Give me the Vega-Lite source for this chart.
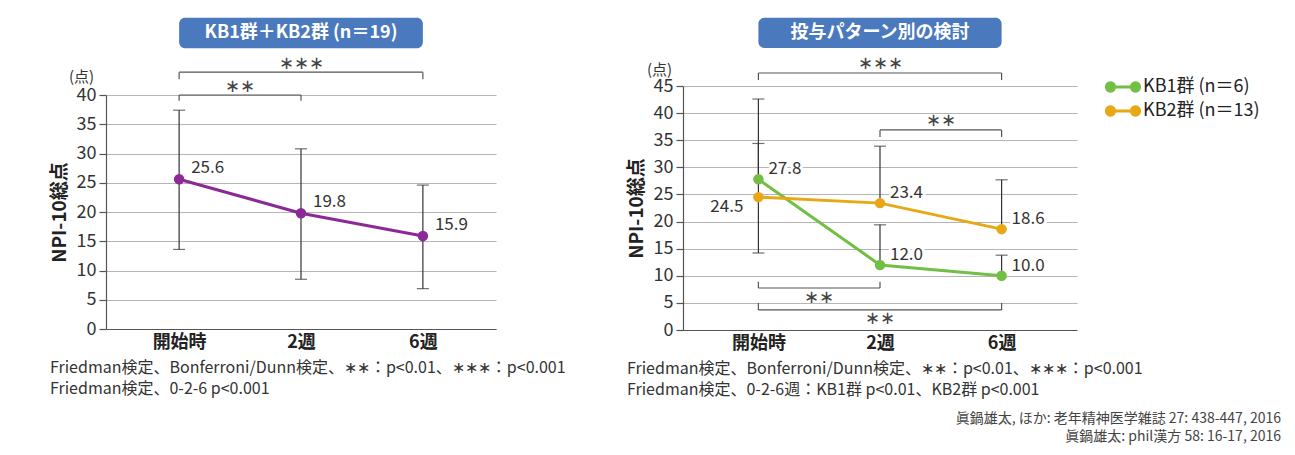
{
  "$schema": "https://vega.github.io/schema/vega-lite/v6.json",
  "background": "white",
  "padding": {"left": 50, "top": 17, "right": 10, "bottom": 6},
  "autosize": {"type": "pad"},
  "spacing": 61,
  "bounds": "full",
  "config": {
    "font": "Noto Sans CJK JP",
    "view": {"stroke": null},
    "axisX": {"title": null, "labelFontSize": 18, "labelFontWeight": "bold", "labelColor": "#222", "labelAngle": 0, "ticks": false,
      "domainColor": "#555", "domainWidth": 1.2, "labelPadding": 4, "grid": false},
    "axisY": {"titleFontSize": 19, "titleFontWeight": "bold", "titleColor": "#222", "titlePadding": 7, "tickCount": 9,
      "grid": true, "gridColor": "#b5b5b5", "gridWidth": 1, "domainColor": "#555", "domainWidth": 1.2,
      "tickColor": "#555", "tickSize": 7, "tickWidth": 1.2, "labelFontSize": 18, "labelColor": "#333", "labelPadding": 3}
  },
  "title": {
    "text": ["眞鍋雄太, ほか: 老年精神医学雑誌 27: 438-447, 2016", "眞鍋雄太: phil漢方 58: 16-17, 2016"],
    "orient": "bottom",
    "anchor": "end",
    "frame": "bounds",
    "fontSize": 14,
    "fontWeight": "normal",
    "color": "#444",
    "lineHeight": 18,
    "offset": 14,
    "dx": 21
  },
  "datasets": {
    "allScores": [
      {"time": "開始時", "mean": 25.6, "lo": 13.6, "hi": 37.4},
      {"time": "2週", "mean": 19.8, "lo": 8.5, "hi": 30.8},
      {"time": "6週", "mean": 15.9, "lo": 6.9, "hi": 24.6}
    ],
    "allBrackets": [
      {"from": "開始時", "to": "6週", "sig": "∗∗∗", "level": 43.9, "tip": 42.7, "labelAt": 45.3},
      {"from": "開始時", "to": "2週", "sig": "∗∗", "level": 40.0, "tip": 39.0, "labelAt": 41.4}
    ],
    "groupScores": [
      {"group": "KB1群 (n＝6)", "time": "開始時", "mean": 27.8, "lo": 27.8, "hi": 42.6},
      {"group": "KB1群 (n＝6)", "time": "2週", "mean": 12.0, "lo": 12.0, "hi": 19.4},
      {"group": "KB1群 (n＝6)", "time": "6週", "mean": 10.0, "lo": 10.0, "hi": 13.8},
      {"group": "KB2群 (n＝13)", "time": "開始時", "mean": 24.5, "lo": 14.2, "hi": 34.4},
      {"group": "KB2群 (n＝13)", "time": "2週", "mean": 23.4, "lo": 23.4, "hi": 33.9},
      {"group": "KB2群 (n＝13)", "time": "6週", "mean": 18.6, "lo": 18.6, "hi": 27.7}
    ],
    "groupBrackets": [
      {"from": "開始時", "to": "6週", "sig": "∗∗∗", "level": 47.4, "tip": 46.1, "labelAt": 49.1},
      {"from": "2週", "to": "6週", "sig": "∗∗", "level": 36.9, "tip": 35.6, "labelAt": 38.6},
      {"from": "開始時", "to": "2週", "sig": "∗∗", "level": 7.75, "tip": 8.9, "labelAt": 5.9},
      {"from": "開始時", "to": "6週", "sig": "∗∗", "level": 3.7, "tip": 5.0, "labelAt": 2.0}
    ]
  },
  "hconcat": [
    {
      "width": 390,
      "height": 243,
      "title": {
        "text": ["Friedman検定、Bonferroni/Dunn検定、∗∗：p<0.01、∗∗∗：p<0.001", "Friedman検定、0-2-6 p<0.001"],
        "orient": "bottom",
        "anchor": "start",
        "frame": "bounds",
        "fontSize": 16,
        "fontWeight": "normal",
        "color": "#333",
        "lineHeight": 21,
        "offset": 9
      },
      "resolve": {"axis": {"y": "independent"}},
      "layer": [
        {
          "layer": [
            {
              "data": {"name": "allScores"},
              "mark": {"type": "rule", "color": "#333", "strokeWidth": 1.2},
              "encoding": {
                "x": {"field": "time", "type": "ordinal", "scale": {"type": "point", "domain": ["開始時", "2週", "6週"], "padding": 0.6}},
                "y": {"field": "lo", "type": "quantitative", "scale": {"domain": [0, 40], "range": [243, 9], "nice": false, "zero": true},
                  "axis": {"title": "NPI-10総点", "values": [0, 5, 10, 15, 20, 25, 30, 35, 40]}},
                "y2": {"field": "hi"}
              }
            },
            {
              "data": {"name": "allScores"},
              "mark": {"type": "tick", "color": "#333", "thickness": 1.2, "size": 12},
              "encoding": {
                "x": {"field": "time", "type": "ordinal", "scale": {"type": "point", "domain": ["開始時", "2週", "6週"], "padding": 0.6}},
                "y": {"field": "hi", "type": "quantitative"}
              }
            },
            {
              "data": {"name": "allScores"},
              "mark": {"type": "tick", "color": "#333", "thickness": 1.2, "size": 12},
              "encoding": {
                "x": {"field": "time", "type": "ordinal", "scale": {"type": "point", "domain": ["開始時", "2週", "6週"], "padding": 0.6}},
                "y": {"field": "lo", "type": "quantitative"}
              }
            },
            {
              "data": {"name": "allScores"},
              "mark": {"type": "line", "color": "#8b2a96", "strokeWidth": 3},
              "encoding": {
                "x": {"field": "time", "type": "ordinal", "scale": {"type": "point", "domain": ["開始時", "2週", "6週"], "padding": 0.6}},
                "y": {"field": "mean", "type": "quantitative"}
              }
            },
            {
              "data": {"name": "allScores"},
              "mark": {"type": "point", "filled": true, "opacity": 1, "size": 110, "color": "#8b2a96"},
              "encoding": {
                "x": {"field": "time", "type": "ordinal", "scale": {"type": "point", "domain": ["開始時", "2週", "6週"], "padding": 0.6}},
                "y": {"field": "mean", "type": "quantitative"}
              }
            },
            {
              "data": {"name": "allScores"},
              "mark": {"type": "text", "align": "left", "baseline": "middle", "dx": 12, "dy": -11, "fontSize": 17, "color": "white", "stroke": "white", "strokeWidth": 6, "strokeJoin": "round"},
              "encoding": {
                "x": {"field": "time", "type": "ordinal", "scale": {"type": "point", "domain": ["開始時", "2週", "6週"], "padding": 0.6}},
                "y": {"field": "mean", "type": "quantitative"},
                "text": {"field": "mean", "type": "quantitative", "format": ".1f"}
              }
            },
            {
              "data": {"name": "allScores"},
              "mark": {"type": "text", "align": "left", "baseline": "middle", "dx": 12, "dy": -11, "fontSize": 17, "color": "#333"},
              "encoding": {
                "x": {"field": "time", "type": "ordinal", "scale": {"type": "point", "domain": ["開始時", "2週", "6週"], "padding": 0.6}},
                "y": {"field": "mean", "type": "quantitative"},
                "text": {"field": "mean", "type": "quantitative", "format": ".1f"}
              }
            },
            {
              "data": {"name": "allBrackets"},
              "mark": {"type": "rule", "color": "#555", "strokeWidth": 1.2},
              "encoding": {
                "x": {"field": "from", "type": "ordinal", "scale": {"type": "point", "domain": ["開始時", "2週", "6週"], "padding": 0.6}},
                "x2": {"field": "to"},
                "y": {"field": "level", "type": "quantitative"}
              }
            },
            {
              "data": {"name": "allBrackets"},
              "mark": {"type": "rule", "color": "#555", "strokeWidth": 1.2},
              "encoding": {
                "x": {"field": "from", "type": "ordinal", "scale": {"type": "point", "domain": ["開始時", "2週", "6週"], "padding": 0.6}},
                "y": {"field": "level", "type": "quantitative"},
                "y2": {"field": "tip"}
              }
            },
            {
              "data": {"name": "allBrackets"},
              "mark": {"type": "rule", "color": "#555", "strokeWidth": 1.2},
              "encoding": {
                "x": {"field": "to", "type": "ordinal", "scale": {"type": "point", "domain": ["開始時", "2週", "6週"], "padding": 0.6}},
                "y": {"field": "level", "type": "quantitative"},
                "y2": {"field": "tip"}
              }
            },
            {
              "data": {"name": "allBrackets"},
              "transform": [{"filter": "datum.from == '開始時' && datum.to == '6週'"}],
              "mark": {"type": "text", "align": "center", "baseline": "middle", "fontSize": 18, "color": "#444"},
              "encoding": {
                "x": {"datum": "2週", "type": "ordinal", "scale": {"type": "point", "domain": ["開始時", "2週", "6週"], "padding": 0.6}},
                "y": {"field": "labelAt", "type": "quantitative"},
                "text": {"field": "sig"}
              }
            },
            {
              "data": {"name": "allBrackets"},
              "transform": [{"filter": "!(datum.from == '開始時' && datum.to == '6週')"}],
              "mark": {"type": "text", "align": "center", "baseline": "middle", "fontSize": 18, "color": "#444", "dx": 61},
              "encoding": {
                "x": {"field": "from", "type": "ordinal", "scale": {"type": "point", "domain": ["開始時", "2週", "6週"], "padding": 0.6}},
                "y": {"field": "labelAt", "type": "quantitative"},
                "text": {"field": "sig"}
              }
            }
          ]
        },
        {
          "data": {"values": [{"heading": "KB1群＋KB2群 (n＝19)"}]},
          "layer": [
            {
              "mark": {"type": "rect", "color": "#4a79be", "cornerRadius": 6},
              "encoding": {
                "x": {"datum": "開始時", "type": "ordinal", "scale": {"type": "point", "domain": ["開始時", "2週", "6週"], "padding": 0.6}},
                "x2": {"datum": "6週"},
                "y": {"datum": 53.2, "type": "quantitative",
                  "axis": {"orient": "left", "title": "(点)", "titleAngle": 0, "titleX": -25, "titleY": -10, "titleAlign": "center", "titleBaseline": "middle",
                    "titleFontSize": 15, "titleFontWeight": "normal", "titleColor": "#333", "labels": false, "ticks": false, "domain": false, "grid": false}},
                "y2": {"datum": 48.0}
              }
            },
            {
              "mark": {"type": "text", "color": "white", "fontSize": 18, "fontWeight": "bold", "align": "center", "baseline": "middle"},
              "encoding": {
                "x": {"datum": "2週", "type": "ordinal", "scale": {"type": "point", "domain": ["開始時", "2週", "6週"], "padding": 0.6}},
                "y": {"datum": 50.6, "type": "quantitative"},
                "text": {"field": "heading"}
              }
            }
          ]
        }
      ]
    },
    {
      "width": 394,
      "height": 244,
      "title": {
        "text": ["Friedman検定、Bonferroni/Dunn検定、∗∗：p<0.01、∗∗∗：p<0.001", "Friedman検定、0-2-6週：KB1群 p<0.01、KB2群  p<0.001"],
        "orient": "bottom",
        "anchor": "start",
        "frame": "bounds",
        "fontSize": 16,
        "fontWeight": "normal",
        "color": "#333",
        "lineHeight": 21,
        "offset": 9
      },
      "resolve": {"axis": {"y": "independent"}},
      "layer": [
        {
          "layer": [
            {
              "data": {"name": "groupScores"},
              "mark": {"type": "rule", "color": "#333", "strokeWidth": 1.2},
              "encoding": {
                "x": {"field": "time", "type": "ordinal", "scale": {"type": "point", "domain": ["開始時", "2週", "6週"], "padding": 0.62}},
                "y": {"field": "lo", "type": "quantitative", "scale": {"domain": [0, 45], "nice": false, "zero": true},
                  "axis": {"title": "NPI-10総点", "tickCount": 10, "values": [0, 5, 10, 15, 20, 25, 30, 35, 40, 45]}},
                "y2": {"field": "hi"}
              }
            },
            {
              "data": {"name": "groupScores"},
              "mark": {"type": "tick", "color": "#333", "thickness": 1.2, "size": 12},
              "encoding": {
                "x": {"field": "time", "type": "ordinal", "scale": {"type": "point", "domain": ["開始時", "2週", "6週"], "padding": 0.62}},
                "y": {"field": "hi", "type": "quantitative"}
              }
            },
            {
              "data": {"name": "groupScores"},
              "transform": [{"filter": "datum.lo < datum.mean"}],
              "mark": {"type": "tick", "color": "#333", "thickness": 1.2, "size": 12},
              "encoding": {
                "x": {"field": "time", "type": "ordinal", "scale": {"type": "point", "domain": ["開始時", "2週", "6週"], "padding": 0.62}},
                "y": {"field": "lo", "type": "quantitative"}
              }
            },
            {
              "data": {"name": "groupScores"},
              "mark": {"type": "line", "strokeWidth": 3},
              "encoding": {
                "x": {"field": "time", "type": "ordinal", "scale": {"type": "point", "domain": ["開始時", "2週", "6週"], "padding": 0.62}},
                "y": {"field": "mean", "type": "quantitative"},
                "color": {"field": "group", "type": "nominal",
                  "scale": {"domain": ["KB1群 (n＝6)", "KB2群 (n＝13)"], "range": ["#73bf45", "#e8a714"]},
                  "legend": {"title": null, "orient": "none", "legendX": 1008, "legendY": -8,
                    "symbolType": "M-3,0A0.917,0.917,0,1,1,-1.167,0A0.917,0.917,0,1,1,-3,0Z M1.167,0A0.917,0.917,0,1,1,3,0A0.917,0.917,0,1,1,1.167,0Z M-1.2,-0.233L1.2,-0.233L1.2,0.233L-1.2,0.233Z",
                    "symbolSize": 144, "symbolStrokeWidth": 0, "symbolOpacity": 1,
                    "labelFontSize": 18, "labelColor": "#222", "labelOffset": 11, "rowPadding": 6, "padding": 0}}
              }
            },
            {
              "data": {"name": "groupScores"},
              "mark": {"type": "point", "filled": true, "opacity": 1, "size": 110},
              "encoding": {
                "x": {"field": "time", "type": "ordinal", "scale": {"type": "point", "domain": ["開始時", "2週", "6週"], "padding": 0.62}},
                "y": {"field": "mean", "type": "quantitative"},
                "color": {"field": "group", "type": "nominal",
                  "scale": {"domain": ["KB1群 (n＝6)", "KB2群 (n＝13)"], "range": ["#73bf45", "#e8a714"]},
                  "legend": {"title": null, "orient": "none", "legendX": 1008, "legendY": -8,
                    "symbolType": "M-3,0A0.917,0.917,0,1,1,-1.167,0A0.917,0.917,0,1,1,-3,0Z M1.167,0A0.917,0.917,0,1,1,3,0A0.917,0.917,0,1,1,1.167,0Z M-1.2,-0.233L1.2,-0.233L1.2,0.233L-1.2,0.233Z",
                    "symbolSize": 144, "symbolStrokeWidth": 0, "symbolOpacity": 1,
                    "labelFontSize": 18, "labelColor": "#222", "labelOffset": 11, "rowPadding": 6, "padding": 0}}
              }
            },
            {
              "data": {"name": "groupScores"},
              "transform": [{"filter": "!(datum.group == 'KB2群 (n＝13)' && datum.time == '開始時')"}],
              "mark": {"type": "text", "align": "left", "baseline": "middle", "dx": 10, "dy": -10, "fontSize": 17, "color": "white", "stroke": "white", "strokeWidth": 6, "strokeJoin": "round"},
              "encoding": {
                "x": {"field": "time", "type": "ordinal", "scale": {"type": "point", "domain": ["開始時", "2週", "6週"], "padding": 0.62}},
                "y": {"field": "mean", "type": "quantitative"},
                "text": {"field": "mean", "type": "quantitative", "format": ".1f"}
              }
            },
            {
              "data": {"name": "groupScores"},
              "transform": [{"filter": "!(datum.group == 'KB2群 (n＝13)' && datum.time == '開始時')"}],
              "mark": {"type": "text", "align": "left", "baseline": "middle", "dx": 10, "dy": -10, "fontSize": 17, "color": "#333"},
              "encoding": {
                "x": {"field": "time", "type": "ordinal", "scale": {"type": "point", "domain": ["開始時", "2週", "6週"], "padding": 0.62}},
                "y": {"field": "mean", "type": "quantitative"},
                "text": {"field": "mean", "type": "quantitative", "format": ".1f"}
              }
            },
            {
              "data": {"name": "groupScores"},
              "transform": [{"filter": "datum.group == 'KB2群 (n＝13)' && datum.time == '開始時'"}],
              "mark": {"type": "text", "align": "right", "baseline": "middle", "dx": -15, "dy": 10, "fontSize": 17, "color": "#333"},
              "encoding": {
                "x": {"field": "time", "type": "ordinal", "scale": {"type": "point", "domain": ["開始時", "2週", "6週"], "padding": 0.62}},
                "y": {"field": "mean", "type": "quantitative"},
                "text": {"field": "mean", "type": "quantitative", "format": ".1f"}
              }
            },
            {
              "data": {"name": "groupBrackets"},
              "mark": {"type": "rule", "color": "#555", "strokeWidth": 1.2},
              "encoding": {
                "x": {"field": "from", "type": "ordinal", "scale": {"type": "point", "domain": ["開始時", "2週", "6週"], "padding": 0.62}},
                "x2": {"field": "to"},
                "y": {"field": "level", "type": "quantitative"}
              }
            },
            {
              "data": {"name": "groupBrackets"},
              "mark": {"type": "rule", "color": "#555", "strokeWidth": 1.2},
              "encoding": {
                "x": {"field": "from", "type": "ordinal", "scale": {"type": "point", "domain": ["開始時", "2週", "6週"], "padding": 0.62}},
                "y": {"field": "level", "type": "quantitative"},
                "y2": {"field": "tip"}
              }
            },
            {
              "data": {"name": "groupBrackets"},
              "mark": {"type": "rule", "color": "#555", "strokeWidth": 1.2},
              "encoding": {
                "x": {"field": "to", "type": "ordinal", "scale": {"type": "point", "domain": ["開始時", "2週", "6週"], "padding": 0.62}},
                "y": {"field": "level", "type": "quantitative"},
                "y2": {"field": "tip"}
              }
            },
            {
              "data": {"name": "groupBrackets"},
              "transform": [{"filter": "datum.from == '開始時' && datum.to == '6週'"}],
              "mark": {"type": "text", "align": "center", "baseline": "middle", "fontSize": 18, "color": "#444"},
              "encoding": {
                "x": {"datum": "2週", "type": "ordinal", "scale": {"type": "point", "domain": ["開始時", "2週", "6週"], "padding": 0.62}},
                "y": {"field": "labelAt", "type": "quantitative"},
                "text": {"field": "sig"}
              }
            },
            {
              "data": {"name": "groupBrackets"},
              "transform": [{"filter": "!(datum.from == '開始時' && datum.to == '6週')"}],
              "mark": {"type": "text", "align": "center", "baseline": "middle", "fontSize": 18, "color": "#444", "dx": 61},
              "encoding": {
                "x": {"field": "from", "type": "ordinal", "scale": {"type": "point", "domain": ["開始時", "2週", "6週"], "padding": 0.62}},
                "y": {"field": "labelAt", "type": "quantitative"},
                "text": {"field": "sig"}
              }
            }
          ]
        },
        {
          "data": {"values": [{"heading": "投与パターン別の検討"}]},
          "layer": [
            {
              "mark": {"type": "rect", "color": "#4a79be", "cornerRadius": 6},
              "encoding": {
                "x": {"datum": "開始時", "type": "ordinal", "scale": {"type": "point", "domain": ["開始時", "2週", "6週"], "padding": 0.62}},
                "x2": {"datum": "6週"},
                "y": {"datum": 57.6, "type": "quantitative",
                  "axis": {"orient": "left", "title": "(点)", "titleAngle": 0, "titleX": -24, "titleY": -17, "titleAlign": "center", "titleBaseline": "middle",
                    "titleFontSize": 15, "titleFontWeight": "normal", "titleColor": "#333", "labels": false, "ticks": false, "domain": false, "grid": false}},
                "y2": {"datum": 52.0}
              }
            },
            {
              "mark": {"type": "text", "color": "white", "fontSize": 18, "fontWeight": "bold", "align": "center", "baseline": "middle"},
              "encoding": {
                "x": {"datum": "2週", "type": "ordinal", "scale": {"type": "point", "domain": ["開始時", "2週", "6週"], "padding": 0.62}},
                "y": {"datum": 54.8, "type": "quantitative"},
                "text": {"field": "heading"}
              }
            }
          ]
        }
      ]
    }
  ]
}
